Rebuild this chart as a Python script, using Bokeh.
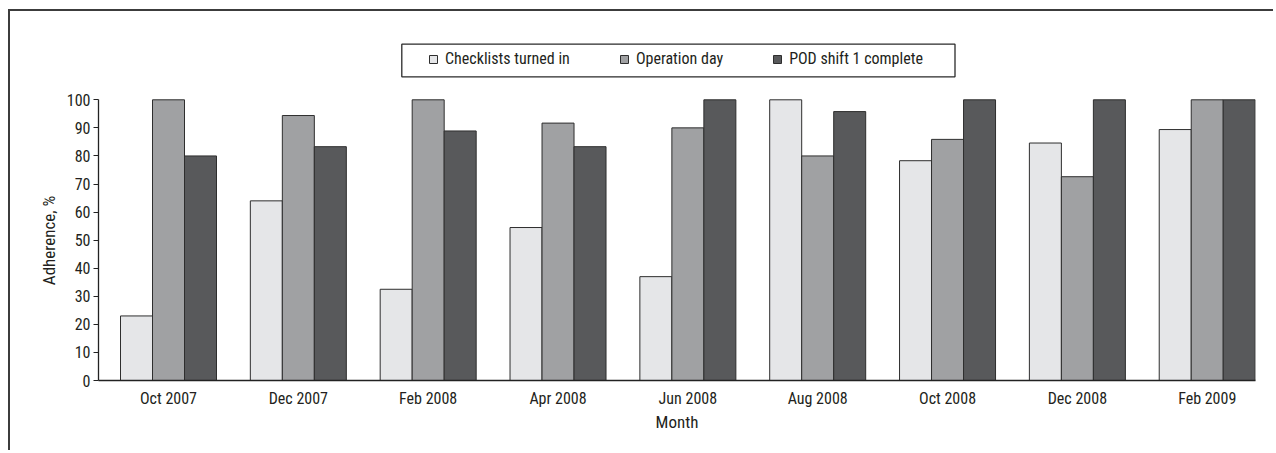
from bokeh.plotting import figure
from bokeh.models import (Range1d, FixedTicker, Legend, LegendItem, BoxAnnotation,
                          ColumnDataSource, Title)
from bokeh.transform import dodge
from bokeh.embed import file_html
from bokeh.resources import INLINE

# ---------------- data ----------------
months = ["Oct 2007", "Dec 2007", "Feb 2008", "Apr 2008", "Jun 2008",
          "Aug 2008", "Oct 2008", "Dec 2008", "Feb 2009"]
checklists_turned_in = [23, 64, 32.5, 54.5, 37, 100, 78.3, 84.6, 89.4]
operation_day = [100, 94.4, 100, 91.7, 90, 80, 85.9, 72.6, 100]
pod_shift1_complete = [80, 83.3, 88.9, 83.3, 100, 95.8, 100, 100, 100]
series_names = ["Checklists turned in", "Operation day", "POD shift 1 complete"]
y_ticks = [0, 10, 20, 30, 40, 50, 60, 70, 80, 90, 100]

# ---------------- style / layout ----------------
FONT = "Roboto Condensed"
TXT = "#231f20"
COLORS = ["#e5e6e8", "#a0a1a3", "#58595b"]
W, H = 1265, 441
BL, BR, BT, BB = 88, 20, 10, 72
PX_X = 129.84          # px per category step
PX_Y = 2.807           # px per percent
FIRST_CENTER_OFF = 70  # px from y axis to first group centre
BAR_W = 32 / PX_X
YTITLE_LEN = 90        # approx rendered length of the y title, px

frame_w = W - BL - BR
frame_h = H - BT - BB
y_end = frame_h / PX_Y
# offset from the frame bottom so that the y title is centred on the 0-100 span
title_offset = 100 * PX_Y / 2 - YTITLE_LEN / 2

src = ColumnDataSource(dict(idx=list(range(len(months))),
                            checklists=checklists_turned_in,
                            opday=operation_day,
                            pod=pod_shift1_complete))

x_start = -FIRST_CENTER_OFF / PX_X
p = figure(width=W, height=H, output_backend="svg", toolbar_location=None,
           x_range=Range1d(x_start, x_start + frame_w / PX_X),
           y_range=Range1d(0, y_end),
           min_border_left=BL, min_border_right=BR,
           min_border_top=BT, min_border_bottom=BB,
           outline_line_color=None, background_fill_color="white",
           border_fill_color="white")
p.styles = {"margin-top": "9px", "margin-left": "8px",
            "border-top": "2px solid #3c3c3c", "border-left": "2px solid #3c3c3c"}
p.grid.visible = False

renderers = []
for col, off, color in zip(["checklists", "opday", "pod"], [-BAR_W, 0, BAR_W], COLORS):
    r = p.vbar(x=dodge("idx", off, range=p.x_range), top=col, width=BAR_W, bottom=0,
               source=src, fill_color=color, line_color="#2e2e2e", line_width=1)
    renderers.append(r)

# axes
xa = p.xaxis[0]
xa.ticker = FixedTicker(ticks=list(range(len(months))))
xa.major_label_overrides = {i: m for i, m in enumerate(months)}
xa.major_tick_out = 0
xa.major_tick_in = 0
xa.minor_tick_line_color = None
xa.axis_line_color = "#222222"
xa.axis_line_width = 1.3
xa.major_label_standoff = 8
xa.axis_label = "Month"
xa.axis_label_standoff = 1
xa.axis_label_text_font_size = "17px"

ya = p.yaxis[0]
ya.ticker = FixedTicker(ticks=y_ticks)
ya.bounds = (0, 100)
ya.major_tick_out = 5
ya.major_tick_in = 0
ya.minor_tick_line_color = None
ya.axis_line_color = "#222222"
ya.axis_line_width = 1.3
ya.major_tick_line_color = "#222222"
ya.major_label_standoff = 3

for ax in (xa, ya):
    ax.major_label_text_font = FONT
    ax.major_label_text_font_size = "16px"
    ax.major_label_text_color = TXT
    ax.axis_label_text_font = FONT
    ax.axis_label_text_font_style = "normal"
    ax.axis_label_text_color = TXT

# y-axis title, centred on the 0-100 axis span
ytitle = Title(text="Adherence, %", align="left", offset=title_offset,
               text_font=FONT, text_font_size="17px", text_font_style="normal",
               text_color=TXT, standoff=10)
p.add_layout(ytitle, "left")

# legend box (canvas px)
box = BoxAnnotation(left=389.3, right=942.5, top=30.7, bottom=63.3,
                    left_units="canvas", right_units="canvas",
                    top_units="canvas", bottom_units="canvas",
                    fill_alpha=0, line_color="#2a2a2a", line_width=1.3, line_alpha=1)
p.add_layout(box)

legend = Legend(items=[LegendItem(label=n, renderers=[r]) for n, r in zip(series_names, renderers)],
                orientation="horizontal", location=(323, 305), padding=7, spacing=49,
                label_standoff=7, glyph_width=10, glyph_height=10,
                border_line_alpha=0, background_fill_alpha=0,
                label_text_font=FONT, label_text_font_size="16px",
                label_text_color=TXT)
p.add_layout(legend, "center")

open("out.html", "w").write(file_html(p, INLINE))
